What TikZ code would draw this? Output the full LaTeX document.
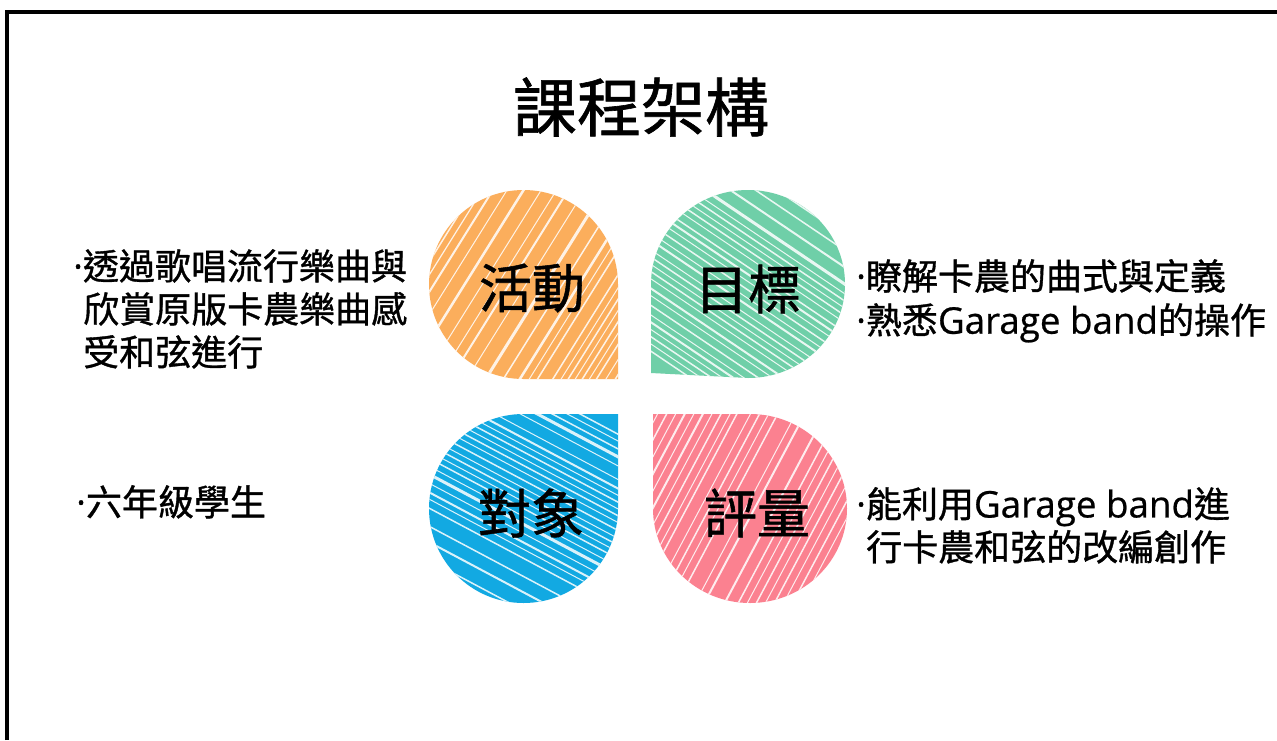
\documentclass[tikz,border=0pt]{standalone}
\usepackage{fontspec}
\setmainfont{Noto Sans CJK TC}
\newfontfamily\medcjk[FakeBold=1.0]{Noto Sans CJK TC}
\newfontfamily\latinpart[FakeBold=0.6,Scale=1.02]{Open Sans}
\newcommand{\dotmark}{{\latinpart ·}}
\definecolor{dropOrange}{HTML}{FBAE5C}
\definecolor{dropGreen}{HTML}{6FCFA8}
\definecolor{dropBlue}{HTML}{12A9E2}
\definecolor{dropPink}{HTML}{FB8190}
\tikzset{
  frameline/.style={line width=4.5pt,black,line cap=butt,line join=miter},
  titletext/.style={font=\medcjk\fontsize{64}{64}\selectfont,anchor=center,inner sep=0pt},
  droplabel/.style={font=\medcjk\fontsize{53}{54}\selectfont,anchor=center,inner sep=0pt},
  sidetext/.style={font=\medcjk\fontsize{36}{43}\selectfont,anchor=north west,inner sep=0pt,align=left},
}
% #1 cx, #2 cy, #3 angle, #4 list of offset/width
\newcommand{\hatchlines}[4]{%
  \begin{scope}[shift={(#1,#2)},rotate=#3]
    \foreach \off/\wid in {#4} {
      \draw[white,line width=\wid pt,opacity=0.85] (-170,\off) -- (170,\off);
    }
  \end{scope}}
\begin{document}
\begin{tikzpicture}[x=1pt,y=-1pt]
\useasboundingbox (0,0) rectangle (1277,740);
\fill[white] (0,0) rectangle (1277,740);
\coordinate (frameBL) at (7,740);
\coordinate (frameTL) at (7,12);
\coordinate (frameTR) at (1277,12);
\draw[frameline] (frameBL) -- (frameTL) -- (frameTR);

\node[titletext] (title) at (641,107) {課程架構};

% orange
\begin{scope}
  \clip (618,379) -- (523.5,379) arc[start angle=90,end angle=360,x radius=94.5,y radius=94.5] -- cycle;
  \fill[dropOrange] (420,180) rectangle (630,390);
  \hatchlines{523.5}{284.5}{58}{-132/1.2,-124/1.5,-116/1.2,-108/1.5,-100/1.2,-92/1.5,-85/1.2,-76/2,-64/1,-50/2.5,-35/1,-22/1,-12/2,2/1,18/3,33/1.5,47/2.5,55/1,62/1.5,75/1.5,82/1,88/1.5,94/1,100/1.5,106/1,112/1.5,120/1,128/1.5}
\end{scope}
% green
\begin{scope}
  \clip (651,373) -- (651,284) arc[start angle=180,end angle=450,x radius=97,y radius=94] -- cycle;
  \fill[dropGreen] (640,180) rectangle (860,390);
  \hatchlines{748}{284}{-34}{-94/1.5,-82/1.5,-68/2,-54/3,-46/1,-40/1.5,-34/1,-28/1.5,-22/1,-14/1.5,-8/2,-2/1,5/1.5,12/1,18/2,26/1,32/1.5,38/1,44/1.5,50/1,58/2,64/1,72/1.5,80/1,86/2,92/1,98/1.5,104/1,110/1.5}
\end{scope}
% blue
\begin{scope}
  \clip (618,414) -- (523.5,414) arc[start angle=-90,end angle=-360,x radius=94.5,y radius=94.5] -- cycle;
  \fill[dropBlue] (420,405) rectangle (630,612);
  \hatchlines{523.5}{508.5}{-28}{-110/1.5,-104/1,-97/1.5,-90/3,-82/1,-70/1,-62/2,-56/1,-50/1.5,-44/1,-38/1.5,-32/1,-25/1.5,-18/1,-12/1.5,-6/1,0/1.5,7/1,14/3,22/1,30/2,36/1,44/1.5,60/1.5,74/2,90/1.5}
\end{scope}
% pink
\begin{scope}
  \clip (653,414) -- (750,414) arc[start angle=-90,end angle=180,x radius=97,y radius=94.5] -- cycle;
  \fill[dropPink] (640,405) rectangle (860,612);
  \hatchlines{750}{508.5}{62}{-132/1.5,-126/1,-118/1.5,-110/1,-102/2,-94/1,-86/2,-78/1,-70/1.5,-62/1,-56/1.5,-44/1,-36/1.5,-28/1,-20/1.5,-4/1,4/2,22/2,34/1.5,42/1,50/1.5,58/1,66/1.5,74/1,82/1.5,90/1}
\end{scope}

\node[droplabel] (huodong) at (532,288) {活動};
\node[droplabel] (mubiao) at (748,289) {目標};
\node[droplabel] (duixiang) at (531,513) {對象};
\node[droplabel] (pingliang) at (757,513) {評量};

\node[sidetext] (activity) at (73,249) {\dotmark 透過歌唱流行樂曲與\\\hspace*{10pt}欣賞原版卡農樂曲感\\\hspace*{10pt}受和弦進行};
\node[sidetext,font=\medcjk\fontsize{36}{44}\selectfont] (goal) at (856,259) {\dotmark 瞭解卡農的曲式與定義\\\dotmark 熟悉{\latinpart Garage band}的操作};
\node[sidetext] (target) at (76,485) {\dotmark 六年級學生};
\node[sidetext] (assess) at (856,487) {\dotmark 能利用{\latinpart Garage band}進\\\hspace*{10pt}行卡農和弦的改編創作};
\end{tikzpicture}
\end{document}
